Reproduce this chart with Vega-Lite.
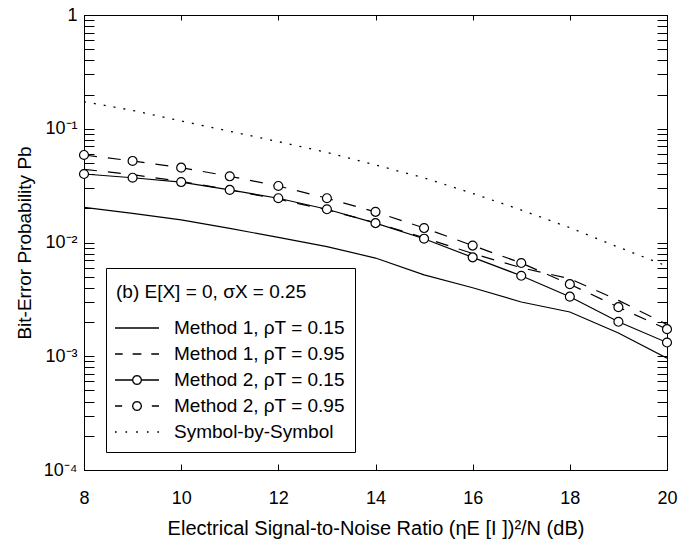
{
  "$schema": "https://vega.github.io/schema/vega-lite/v6.json",
  "width": 583,
  "height": 455,
  "autosize": {"type": "none"},
  "padding": {"left": 84, "top": 15, "right": 20, "bottom": 73},
  "background": "white",
  "config": {
    "view": {"stroke": "black", "strokeWidth": 1},
    "font": "Liberation Sans",
    "axis": {
      "grid": false,
      "domainColor": "black",
      "domainWidth": 1,
      "tickColor": "black",
      "tickWidth": 1,
      "labelColor": "black",
      "titleColor": "black",
      "labelFont": "Liberation Sans",
      "titleFont": "Liberation Sans",
      "labelFontSize": 18,
      "titleFontSize": 19,
      "titleFontWeight": "normal",
      "labelFlush": false,
      "labelOverlap": false
    }
  },
  "data": {
    "values": [
      {"snr": 8, "pb": 0.0204, "series": "Method 1, ρT = 0.15"},
      {"snr": 9, "pb": 0.018, "series": "Method 1, ρT = 0.15"},
      {"snr": 10, "pb": 0.0158, "series": "Method 1, ρT = 0.15"},
      {"snr": 11, "pb": 0.0133, "series": "Method 1, ρT = 0.15"},
      {"snr": 12, "pb": 0.0111, "series": "Method 1, ρT = 0.15"},
      {"snr": 13, "pb": 0.0092, "series": "Method 1, ρT = 0.15"},
      {"snr": 14, "pb": 0.0073, "series": "Method 1, ρT = 0.15"},
      {"snr": 15, "pb": 0.0052, "series": "Method 1, ρT = 0.15"},
      {"snr": 16, "pb": 0.0040, "series": "Method 1, ρT = 0.15"},
      {"snr": 17, "pb": 0.0030, "series": "Method 1, ρT = 0.15"},
      {"snr": 18, "pb": 0.00245, "series": "Method 1, ρT = 0.15"},
      {"snr": 19, "pb": 0.0016, "series": "Method 1, ρT = 0.15"},
      {"snr": 20, "pb": 0.00096, "series": "Method 1, ρT = 0.15"},
      {"snr": 8, "pb": 0.044, "series": "Method 1, ρT = 0.95"},
      {"snr": 9, "pb": 0.0395, "series": "Method 1, ρT = 0.95"},
      {"snr": 10, "pb": 0.0345, "series": "Method 1, ρT = 0.95"},
      {"snr": 11, "pb": 0.029, "series": "Method 1, ρT = 0.95"},
      {"snr": 12, "pb": 0.024, "series": "Method 1, ρT = 0.95"},
      {"snr": 13, "pb": 0.0194, "series": "Method 1, ρT = 0.95"},
      {"snr": 14, "pb": 0.0149, "series": "Method 1, ρT = 0.95"},
      {"snr": 15, "pb": 0.0110, "series": "Method 1, ρT = 0.95"},
      {"snr": 16, "pb": 0.0080, "series": "Method 1, ρT = 0.95"},
      {"snr": 17, "pb": 0.0060, "series": "Method 1, ρT = 0.95"},
      {"snr": 18, "pb": 0.0048, "series": "Method 1, ρT = 0.95"},
      {"snr": 19, "pb": 0.0031, "series": "Method 1, ρT = 0.95"},
      {"snr": 20, "pb": 0.0019, "series": "Method 1, ρT = 0.95"},
      {"snr": 8, "pb": 0.040, "series": "Method 2, ρT = 0.15"},
      {"snr": 9, "pb": 0.0371, "series": "Method 2, ρT = 0.15"},
      {"snr": 10, "pb": 0.034, "series": "Method 2, ρT = 0.15"},
      {"snr": 11, "pb": 0.029, "series": "Method 2, ρT = 0.15"},
      {"snr": 12, "pb": 0.0245, "series": "Method 2, ρT = 0.15"},
      {"snr": 13, "pb": 0.0196, "series": "Method 2, ρT = 0.15"},
      {"snr": 14, "pb": 0.0148, "series": "Method 2, ρT = 0.15"},
      {"snr": 15, "pb": 0.0108, "series": "Method 2, ρT = 0.15"},
      {"snr": 16, "pb": 0.0074, "series": "Method 2, ρT = 0.15"},
      {"snr": 17, "pb": 0.0051, "series": "Method 2, ρT = 0.15"},
      {"snr": 18, "pb": 0.00334, "series": "Method 2, ρT = 0.15"},
      {"snr": 19, "pb": 0.00201, "series": "Method 2, ρT = 0.15"},
      {"snr": 20, "pb": 0.00132, "series": "Method 2, ρT = 0.15"},
      {"snr": 8, "pb": 0.0588, "series": "Method 2, ρT = 0.95"},
      {"snr": 9, "pb": 0.0521, "series": "Method 2, ρT = 0.95"},
      {"snr": 10, "pb": 0.0455, "series": "Method 2, ρT = 0.95"},
      {"snr": 11, "pb": 0.0382, "series": "Method 2, ρT = 0.95"},
      {"snr": 12, "pb": 0.0314, "series": "Method 2, ρT = 0.95"},
      {"snr": 13, "pb": 0.0245, "series": "Method 2, ρT = 0.95"},
      {"snr": 14, "pb": 0.0186, "series": "Method 2, ρT = 0.95"},
      {"snr": 15, "pb": 0.0134, "series": "Method 2, ρT = 0.95"},
      {"snr": 16, "pb": 0.0094, "series": "Method 2, ρT = 0.95"},
      {"snr": 17, "pb": 0.0066, "series": "Method 2, ρT = 0.95"},
      {"snr": 18, "pb": 0.0043, "series": "Method 2, ρT = 0.95"},
      {"snr": 19, "pb": 0.0027, "series": "Method 2, ρT = 0.95"},
      {"snr": 20, "pb": 0.00173, "series": "Method 2, ρT = 0.95"},
      {"snr": 8, "pb": 0.173, "series": "Symbol-by-Symbol"},
      {"snr": 9, "pb": 0.145, "series": "Symbol-by-Symbol"},
      {"snr": 10, "pb": 0.117, "series": "Symbol-by-Symbol"},
      {"snr": 11, "pb": 0.095, "series": "Symbol-by-Symbol"},
      {"snr": 12, "pb": 0.077, "series": "Symbol-by-Symbol"},
      {"snr": 13, "pb": 0.062, "series": "Symbol-by-Symbol"},
      {"snr": 14, "pb": 0.048, "series": "Symbol-by-Symbol"},
      {"snr": 15, "pb": 0.037, "series": "Symbol-by-Symbol"},
      {"snr": 16, "pb": 0.027, "series": "Symbol-by-Symbol"},
      {"snr": 17, "pb": 0.0193, "series": "Symbol-by-Symbol"},
      {"snr": 18, "pb": 0.0135, "series": "Symbol-by-Symbol"},
      {"snr": 19, "pb": 0.0091, "series": "Symbol-by-Symbol"},
      {"snr": 20, "pb": 0.0062, "series": "Symbol-by-Symbol"}
    ]
  },
  "layer": [
    {
      "transform": [{"filter": "indexof(datum.series, '0.15') > 0"}],
      "mark": {"type": "line", "color": "black", "strokeWidth": 1.2, "clip": true},
      "encoding": {
        "x": {
          "field": "snr", "type": "quantitative",
          "scale": {"domain": [8, 20], "nice": false, "zero": false},
          "axis": {
            "orient": "bottom",
            "values": [8, 10, 12, 14, 16, 18, 20],
            "tickSize": -6,
            "labelPadding": 25,
            "labelBaseline": "top",
            "title": "Electrical Signal-to-Noise Ratio (ηE [I ])²/N  (dB)",
            "titleFontSize": 20,
            "titlePadding": 11
          }
        },
        "y": {
          "field": "pb", "type": "quantitative",
          "scale": {"type": "log", "domain": [0.0001, 1], "nice": false},
          "axis": {
            "orient": "left",
            "values": [0.0001, 0.0002, 0.0003, 0.0004, 0.0005, 0.0006, 0.0007, 0.0008, 0.0009,
                       0.001, 0.002, 0.003, 0.004, 0.005, 0.006, 0.007, 0.008, 0.009,
                       0.01, 0.02, 0.03, 0.04, 0.05, 0.06, 0.07, 0.08, 0.09,
                       0.1, 0.2, 0.3, 0.4, 0.5, 0.6, 0.7, 0.8, 0.9, 1],
            "labelExpr": "abs(log(datum.value)/LN10 - round(log(datum.value)/LN10)) < 0.01 ? (datum.value > 0.5 ? '1' : '10' + ['', '⁻¹', '⁻²', '⁻³', '⁻⁴'][-round(log(datum.value)/LN10)]) : ''",
            "tickSize": -10,
            "labelPadding": 17,
            "title": "Bit-Error Probability Pb",
            "titlePadding": 9
          }
        },
        "detail": {"field": "series", "type": "nominal"}
      }
    },
    {
      "transform": [{"filter": "indexof(datum.series, '0.95') > 0"}],
      "mark": {"type": "line", "color": "black", "strokeWidth": 1.2, "strokeDash": [13, 11], "clip": true},
      "encoding": {
        "x": {"field": "snr", "type": "quantitative", "axis": null},
        "y": {"field": "pb", "type": "quantitative", "axis": null},
        "detail": {"field": "series", "type": "nominal"}
      }
    },
    {
      "transform": [{"filter": "datum.series === 'Symbol-by-Symbol'"}],
      "mark": {"type": "line", "color": "black", "strokeWidth": 1.3, "strokeDash": [2, 8], "clip": true},
      "encoding": {
        "x": {"field": "snr", "type": "quantitative", "axis": null},
        "y": {"field": "pb", "type": "quantitative", "axis": null}
      }
    },
    {
      "transform": [{"filter": "indexof(datum.series, 'Method 2') === 0"}],
      "mark": {"type": "point", "shape": "circle", "filled": true, "fill": "white", "stroke": "black", "strokeWidth": 1.2, "size": 80, "opacity": 1},
      "encoding": {
        "x": {
          "field": "snr", "type": "quantitative",
          "axis": {
            "orient": "top",
            "values": [8, 10, 12, 14, 16, 18, 20],
            "tickSize": -5,
            "labels": false,
            "title": null
          }
        },
        "y": {
          "field": "pb", "type": "quantitative",
          "axis": {
            "orient": "right",
            "values": [0.0001, 0.0002, 0.0003, 0.0004, 0.0005, 0.0006, 0.0007, 0.0008, 0.0009,
                       0.001, 0.002, 0.003, 0.004, 0.005, 0.006, 0.007, 0.008, 0.009,
                       0.01, 0.02, 0.03, 0.04, 0.05, 0.06, 0.07, 0.08, 0.09,
                       0.1, 0.2, 0.3, 0.4, 0.5, 0.6, 0.7, 0.8, 0.9, 1],
            "tickSize": -10,
            "labels": false,
            "title": null
          }
        }
      }
    },
    {
      "transform": [{"filter": "false"}],
      "mark": {"type": "point", "filled": false, "color": "black", "stroke": "black", "strokeWidth": 1.3, "opacity": 1},
      "encoding": {
        "x": {"field": "snr", "type": "quantitative", "axis": null},
        "y": {"field": "pb", "type": "quantitative", "axis": null},
        "shape": {
          "field": "series", "type": "nominal",
          "scale": {
            "domain": ["Method 1, ρT = 0.15", "Method 1, ρT = 0.95", "Method 2, ρT = 0.15", "Method 2, ρT = 0.95", "Symbol-by-Symbol"],
            "range": [
              "M-2,0L2,0",
              "M-2,0L-1.3,0M-0.4,0L0.4,0M1.3,0L2,0",
              "M-2,0L-0.4,0M0.4,0L2,0M0.4,0L0.346,0.2L0.2,0.346L0,0.4L-0.2,0.346L-0.346,0.2L-0.4,0L-0.346,-0.2L-0.2,-0.346L0,-0.4L0.2,-0.346L0.346,-0.2Z",
              "M-2,0L-1.35,0M1.35,0L2,0M0.4,0L0.346,0.2L0.2,0.346L0,0.4L-0.2,0.346L-0.346,0.2L-0.4,0L-0.346,-0.2L-0.2,-0.346L0,-0.4L0.2,-0.346L0.346,-0.2Z",
              "M-2,0L-1.85,0M-1.05,0L-0.9,0M-0.08,0L0.08,0M0.9,0L1.05,0M1.85,0L2,0"
            ]
          },
          "legend": {
            "title": "(b) E[X] = 0, σX = 0.25",
            "orient": "none",
            "legendX": 22,
            "legendY": 253,
            "strokeColor": "black",
            "fillColor": "white",
            "padding": 10,
            "titleFontSize": 19,
            "titleFontWeight": "normal",
            "titleColor": "black",
            "titleLimit": 500,
            "titleBaseline": "line-top",
            "titleLineHeight": 29,
            "titlePadding": 19,
            "labelFontSize": 19,
            "labelColor": "black",
            "labelLimit": 500,
            "symbolSize": 484,
            "symbolStrokeWidth": 1.3,
            "symbolStrokeColor": "black",
            "symbolOpacity": 1,
            "symbolOffset": 9,
            "labelOffset": 25,
            "rowPadding": 4
          }
        }
      }
    }
  ]
}
